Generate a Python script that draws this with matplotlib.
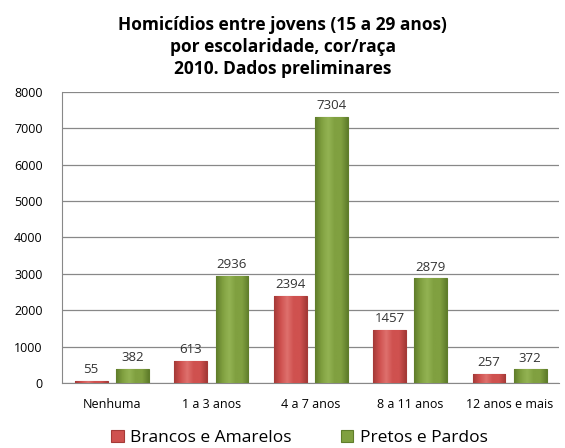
import matplotlib.pyplot as plt
import numpy as np
from matplotlib.colors import LinearSegmentedColormap

categories = ['Nenhuma', '1 a 3 anos', '4 a 7 anos', '8 a 11 anos', '12 anos e mais']
brancos = [55, 613, 2394, 1457, 257]
pretos = [382, 2936, 7304, 2879, 372]
series_names = ['Brancos e Amarelos', 'Pretos e Pardos']

plt.rcParams['font.family'] = ['Open Sans', 'DejaVu Sans']

fig = plt.figure(figsize=(5.65, 4.48), dpi=100)
ax = fig.add_axes([0.11, 0.145, 0.88, 0.65])

x = np.arange(len(categories))
w = 0.33
gap = 0.085

def shaded_bars(xs, vals, base, dark, light, label):
    bars = ax.bar(xs, vals, w, color=base, edgecolor=dark, linewidth=0.8,
                  label=label, zorder=3)
    # soft bevel: darker edges, flat middle
    cmap = LinearSegmentedColormap.from_list('s', [dark, base, light, base, base, dark])
    grad = np.linspace(0, 1, 64).reshape(1, -1)
    for b in bars:
        x0, y0 = b.get_x(), b.get_y()
        im = ax.imshow(grad, cmap=cmap, aspect='auto', zorder=3.5,
                       extent=(x0, x0 + b.get_width(), y0, y0 + b.get_height()))
        im.set_clip_path(b)
    for xi, v in zip(xs, vals):
        ax.text(xi, v + 130, str(v), ha='center', va='bottom', fontsize=9.5,
                color='#333333', zorder=5)
    return bars

shaded_bars(x - w / 2 - gap / 2, brancos, '#CF514F', '#A53A37', '#DE706D', series_names[0])
shaded_bars(x + w / 2 + gap / 2, pretos, '#80A040', '#5F7D2B', '#93B353', series_names[1])

ax.set_xlim(-0.5, len(categories) - 0.5)
ax.set_ylim(0, 8000)
ax.set_yticks(range(0, 8001, 1000))
ax.set_xticks(x)
ax.set_xticklabels(categories, fontsize=9)
ax.tick_params(axis='y', labelsize=9, length=0, pad=14)
ax.tick_params(axis='x', length=0, pad=11)
ax.grid(axis='y', color='#888888', linewidth=0.9, zorder=0)
for s in ['top', 'right']:
    ax.spines[s].set_visible(False)
ax.spines['left'].set_color('#888888')
ax.spines['bottom'].set_color('#888888')

fig.suptitle('Homicídios entre jovens (15 a 29 anos)\npor escolaridade, cor/raça\n2010. Dados preliminares',
             y=0.965, fontsize=12.5, fontweight='bold', linespacing=1.3)

leg = fig.legend(loc='lower center', ncol=2, frameon=False, fontsize=12.5,
                 bbox_to_anchor=(0.53, -0.03), handlelength=0.7, handleheight=0.7,
                 columnspacing=2.8, handletextpad=0.4)

fig.savefig('out.png', dpi=100)
